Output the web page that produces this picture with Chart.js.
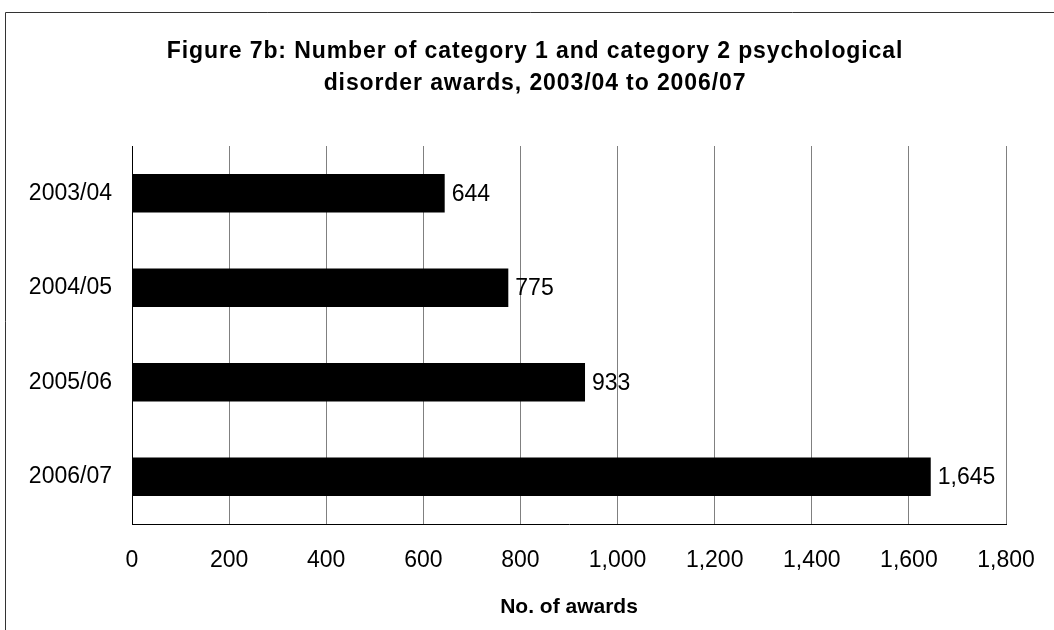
<!DOCTYPE html>
<html>
<head>
<meta charset="utf-8">
<script src="https://cdn.jsdelivr.net/npm/chart.js@4/dist/chart.umd.min.js"></script>
<style>
  html, body { margin: 0; padding: 0; background: #fff; }
  #wrap { width: 1054px; height: 630px; position: relative; }
</style>
</head>
<body>
<div id="wrap"><canvas id="c" width="1054" height="630"></canvas></div>
<script>
const categories = ["2003/04", "2004/05", "2005/06", "2006/07"];
const awards = [644, 775, 933, 1645];
const xMin = 0, xMax = 1800, xStep = 200;
const titleLines = ["Figure 7b: Number of category 1 and category 2 psychological", "disorder awards, 2003/04 to 2006/07"];
const xTitle = "No. of awards";

const FONT = "Arial, 'Liberation Sans', sans-serif";

const framePlugin = {
  id: 'frame',
  beforeDraw(chart) {
    const ctx = chart.ctx;
    ctx.save();
    ctx.fillStyle = '#fff';
    ctx.fillRect(0, 0, chart.width, chart.height);
    ctx.strokeStyle = '#333';
    ctx.lineWidth = 1;
    ctx.beginPath();
    ctx.moveTo(5.5, chart.height + 2);
    ctx.lineTo(5.5, 12.5);
    ctx.lineTo(chart.width + 2, 12.5);
    ctx.stroke();
    ctx.restore();
  },
  afterDraw(chart) {
    const ctx = chart.ctx;
    ctx.save();
    ctx.font = "bold 23px " + FONT;
    ctx.fillStyle = '#000';
    ctx.textAlign = 'center';
    ctx.textBaseline = 'middle';
    if ('letterSpacing' in ctx) ctx.letterSpacing = '0.9px';
    const cx = 535;
    ctx.fillText(titleLines[0], cx, 52);
    ctx.fillText(titleLines[1], cx, 84);
    ctx.restore();
  }
};

const labelPlugin = {
  id: 'barLabels',
  afterDatasetsDraw(chart) {
    const ctx = chart.ctx;
    const meta = chart.getDatasetMeta(0);
    ctx.save();
    ctx.font = "23px " + FONT;
    ctx.fillStyle = '#000';
    ctx.textAlign = 'left';
    ctx.textBaseline = 'middle';
    meta.data.forEach((bar, i) => {
      const v = chart.data.datasets[0].data[i];
      ctx.fillText(v.toLocaleString('en-US'), bar.x + 7, bar.y + 1);
    });
    ctx.restore();
  }
};

new Chart(document.getElementById('c'), {
  type: 'bar',
  data: {
    labels: categories,
    datasets: [{
      data: awards,
      backgroundColor: '#000',
      borderWidth: 0,
      barPercentage: 0.41,
      categoryPercentage: 1.0
    }]
  },
  options: {
    indexAxis: 'y',
    responsive: false,
    animation: false,
    devicePixelRatio: 1,
    layout: { padding: { left: 0, right: 48, top: 146, bottom: 0 } },
    plugins: {
      legend: { display: false },
      tooltip: { enabled: false },
      title: { display: false }
    },
    scales: {
      x: {
        min: xMin, max: xMax,
        afterFit(scale) { scale.height = 106; scale.paddingRight = 0; scale.paddingLeft = 0; },
        ticks: {
          stepSize: xStep,
          color: '#000',
          padding: 23,
          maxRotation: 0,
          autoSkip: false,
          font: { family: FONT, size: 23 },
          callback: v => Number(v).toLocaleString('en-US')
        },
        grid: { color: '#808080', lineWidth: 1, drawTicks: false },
        border: { color: '#000', width: 1 },
        title: {
          display: true,
          text: xTitle,
          color: '#000',
          font: { family: FONT, size: 21, weight: 'bold' },
          padding: { top: 0, bottom: 10 }
        }
      },
      y: {
        afterFit(scale) { scale.width = 132; },
        ticks: {
          color: '#000',
          padding: 20,
          font: { family: FONT, size: 23 }
        },
        grid: { display: false, drawTicks: false },
        border: { color: '#000', width: 1 }
      }
    }
  },
  plugins: [framePlugin, labelPlugin]
});
</script>
</body>
</html>
